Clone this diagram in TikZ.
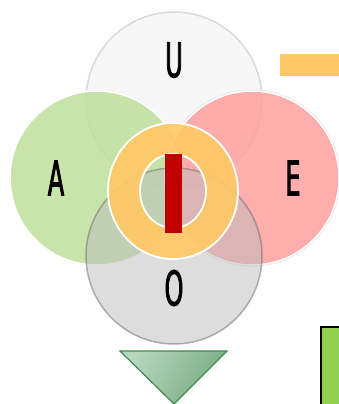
\documentclass[tikz,border=0pt]{standalone}
\usepackage{xcolor}
\usepackage{tikz}
\usepackage{fontspec}
\newfontfamily\vowelfont[FakeStretch=0.5, FakeBold=1.6]{DejaVu Sans}
\definecolor{ufill}{HTML}{F7F7F7}
\definecolor{uline}{HTML}{D9D9D9}
\definecolor{afill}{HTML}{BFDF9C}
\definecolor{efill}{HTML}{FF9F9F}
\definecolor{ofill}{HTML}{BBBBBB}
\definecolor{oline}{HTML}{6A6A6A}
\definecolor{ringorange}{HTML}{FFC966}
\definecolor{barred}{HTML}{C00000}
\definecolor{boxgreen}{HTML}{92D050}
\definecolor{trilight}{HTML}{B7D6BE}
\definecolor{tridark}{HTML}{78AB84}
\definecolor{triline}{HTML}{3D8B4F}

\begin{document}
\begin{tikzpicture}[x=1pt, y=-1pt,
    vowel/.style={font=\vowelfont\fontsize{48}{48}\selectfont, inner sep=0pt}]
  \useasboundingbox (0,0) rectangle (339,404);
  \clip (0,0) rectangle (339,404);
  % the four circles
  \draw[uline, fill=ufill, line width=1.5pt] (174,100) circle (88);
  \draw[black!10, line width=3pt] (252,178) circle (87);
  \draw[white, fill=afill, fill opacity=0.85, line width=1.5pt] (97,178) circle (87);
  \draw[white, fill=efill, fill opacity=0.85, line width=1.5pt] (252,178) circle (87);
  \draw[oline, fill=ofill, opacity=0.5, line width=1.5pt] (174,256) circle (88);
  \node[vowel] (u) at (174,60) {U};
  \node[vowel] (a) at (56,178) {A};
  \node[vowel] (e) at (293,178) {E};
  \node[vowel] (o) at (174,288) {O};
  % ring and bar
  \fill[ringorange, fill opacity=0.92, even odd rule] (173,191) ellipse (65 and 68) (173,191) ellipse (33 and 37);
  \draw[white, line width=1.8pt] (173,191) ellipse (65 and 68);
  \draw[white, line width=1.8pt] (173,191) ellipse (33 and 37);
  \fill[barred] (165,154) rectangle (182,233);
  % side pieces
  \fill[ringorange] (280,54) rectangle (340,76);
  \draw[black, fill=boxgreen, line width=1.2pt] (321,327) rectangle (345,410);
  \shade[left color=trilight, right color=tridark, shading angle=60] (120,351) -- (227,351) -- (174,404) -- cycle;
  \draw[triline, line width=1.2pt, line join=miter] (120,351) -- (227,351) -- (174,404) -- cycle;
\end{tikzpicture}
\end{document}
